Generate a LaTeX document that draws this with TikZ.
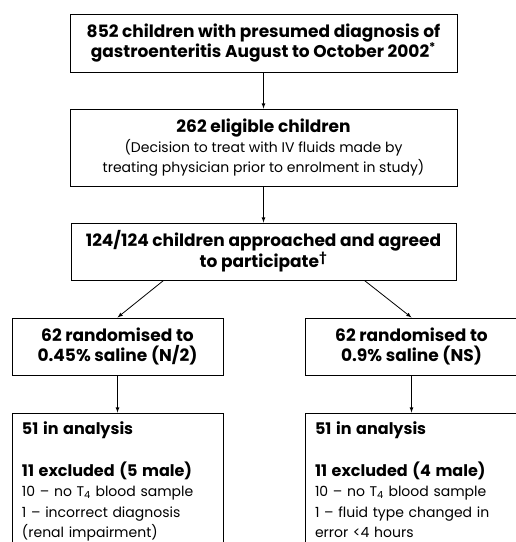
\documentclass[tikz,border=0pt]{standalone}
\usepackage{fontspec}
\setmainfont{Poppins}
\usetikzlibrary{positioning}
\newcommand{\headline}[1]{{\fontsize{17}{21}\selectfont\bfseries #1}}
\newcommand{\listhead}[1]{{\fontsize{16}{20.5}\selectfont\bfseries #1}}

\begin{document}
\begin{tikzpicture}[x=1pt, y=1pt, >=latex, every node/.style={font=\fontsize{14}{20}\selectfont},
box/.style={draw, line width=1pt, align=center, inner sep=0pt, minimum width=211pt},
listbox/.style={draw, line width=1pt, align=left, inner xsep=10pt, inner ysep=9pt, text width=191pt, anchor=north,
font=\fontsize{14}{20.5}\selectfont}]
\useasboundingbox (0,0) rectangle (516,-542);
\clip (0,0) rectangle (516,-542);
\node[box, minimum width=387pt, minimum height=58pt] (screened) at (263.5,-43)
{\headline{852 children with presumed diagnosis of}\\\headline{gastroenteritis August to October 2002\textsuperscript{*}}};
\node[box, minimum width=387pt, minimum height=77pt, below=36pt of screened] (eligible)
{\headline{262 eligible children}\\(Decision to treat with IV fluids made by\\treating physician prior to enrolment in study)};
\node[box, minimum width=385pt, minimum height=57pt, below=36pt of eligible] (agreed)
{\headline{124/124 children approached and agreed}\\\headline{to participate\textsuperscript{†}}};
\node[box, minimum height=57pt, below=37pt of agreed, xshift=-146pt] (half)
{\headline{62 randomised to}\\\headline{0.45\% saline (N/2)}};
\node[box, minimum width=213pt, minimum height=57pt, below=37pt of agreed, xshift=148pt] (normal)
{\headline{62 randomised to}\\\headline{0.9\% saline (NS)}};
\node[listbox, below=37pt of half] (halfout)
{\listhead{51 in analysis}\\[21pt]\listhead{11 excluded (5 male)}\\10 -- no T\textsubscript{4} blood sample\\1 -- incorrect diagnosis\\(renal impairment)\\[40pt]\mbox{}};
\node[listbox, text width=193pt, below=37pt of normal] (normalout)
{\listhead{51 in analysis}\\[21pt]\listhead{11 excluded (4 male)}\\10 -- no T\textsubscript{4} blood sample\\1 -- fluid type changed in\\error <4 hours\\[40pt]\mbox{}};
\draw[->, line width=0.8pt] (screened) -- (eligible);
\draw[->, line width=0.8pt] (eligible) -- (agreed);
\draw[->, line width=0.8pt] ([xshift=-100pt]agreed.south) -- (half.north);
\draw[->, line width=0.8pt] ([xshift=101pt]agreed.south) -- (normal.north);
\draw[->, line width=0.8pt] (half) -- (halfout);
\draw[->, line width=0.8pt] (normal) -- (normalout);
\end{tikzpicture}
\end{document}
